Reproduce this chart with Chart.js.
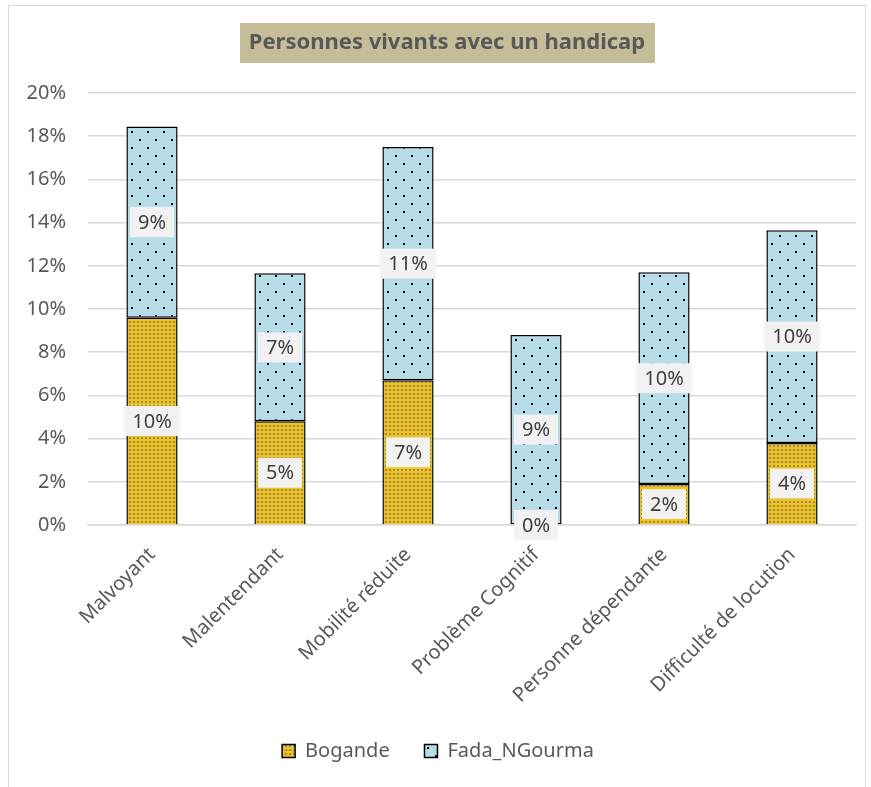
<!DOCTYPE html>
<html>
<head>
<meta charset="utf-8">
<script src="https://cdn.jsdelivr.net/npm/chart.js@4.4.1/dist/chart.umd.min.js"></script>
<style>
  html, body { margin: 0; padding: 0; background: #ffffff; }
  #wrap { position: absolute; left: 0; top: 0; width: 871px; height: 787px; }
</style>
</head>
<body>
<div id="wrap"><canvas id="chart" width="871" height="787"></canvas></div>
<script>
// Data (percent)
const categories = ["Malvoyant", "Malentendant", "Mobilité réduite", "Problème Cognitif", "Personne dépendante", "Difficulté de locution"];
const bogande = [9.6, 4.8, 6.7, 0, 1.9, 3.8];
const fada = [8.85, 6.85, 10.8, 8.8, 9.8, 9.85];
const seriesNames = ["Bogande", "Fada_NGourma"];
const yMax = 20;
const yStep = 2;

const FONT = "'Noto Sans', 'Open Sans', sans-serif";

// Patterns: yellow with small blue dots, light blue with black dots
function makePattern(size, bg, dots, dotColor, dotSize) {
    const c = document.createElement("canvas");
    c.width = size;
    c.height = size;
    const g = c.getContext("2d");
    g.fillStyle = bg;
    g.fillRect(0, 0, size, size);
    g.fillStyle = dotColor;
    dots.forEach(d => g.fillRect(d[0], d[1], dotSize, dotSize));
    return g.createPattern(c, "repeat");
}
const ctxMain = document.getElementById("chart").getContext("2d");
const bogandeFill = makePattern(4, "#FFC000", [[1, 1]], "#6D8FB8", 2);
const fadaFill = makePattern(16, "#B7DEE8", [[3, 3], [11, 11]], "#000000", 2);

// Frame and title box
const frameTitlePlugin = {
    id: "frameTitle",
    beforeDraw(chart) {
        const c = chart.ctx;
        c.save();
        c.fillStyle = "#ffffff";
        c.fillRect(0, 0, chart.width, chart.height);
        c.strokeStyle = "#D9D9D9";
        c.lineWidth = 1;
        c.strokeRect(8.5, 5.5, 857, 800);
        c.fillStyle = "#C4BD97";
        c.fillRect(240, 23, 415, 40);
        c.fillStyle = "#595959";
        c.font = "bold 22px " + FONT;
        c.textAlign = "center";
        c.textBaseline = "middle";
        c.fillText("Personnes vivants avec un handicap", 447, 43);
        c.restore();
    }
};

// Data labels in light boxes at the middle of each segment
const labelPlugin = {
    id: "segLabels",
    afterDatasetsDraw(chart) {
        const c = chart.ctx;
        c.save();
        c.font = "20px " + FONT;
        c.textAlign = "center";
        c.textBaseline = "middle";
        chart.data.datasets.forEach((ds, di) => {
            const meta = chart.getDatasetMeta(di);
            meta.data.forEach((bar, i) => {
                const txt = Math.round(ds.data[i]) + "%";
                const y = (bar.y + bar.base) / 2;
                const w = c.measureText(txt).width + 16;
                const h = 30;
                c.fillStyle = "#F2F2F2";
                c.fillRect(bar.x - w / 2, y - h / 2, w, h);
                c.fillStyle = "#404040";
                c.fillText(txt, bar.x, y + 1);
            });
        });
        c.restore();
    }
};

new Chart(ctxMain, {
    type: "bar",
    data: {
        labels: categories,
        datasets: [
            {
                label: seriesNames[0],
                data: bogande,
                backgroundColor: bogandeFill,
                borderColor: "#000000",
                borderWidth: 1.5,
                borderSkipped: "bottom",
                categoryPercentage: 1,
                barPercentage: 0.4
            },
            {
                label: seriesNames[1],
                data: fada,
                backgroundColor: fadaFill,
                borderColor: "#000000",
                borderWidth: 1.5,
                borderSkipped: false,
                categoryPercentage: 1,
                barPercentage: 0.4
            }
        ]
    },
    options: {
        responsive: false,
        animation: false,
        layout: { padding: { left: 20, right: 15, top: 93, bottom: 16 } },
        scales: {
            x: {
                stacked: true,
                grid: { display: false },
                border: { color: "#D9D9D9", width: 1.5 },
                ticks: {
                    color: "#595959",
                    font: { family: FONT, size: 20 },
                    maxRotation: 45,
                    minRotation: 45,
                    padding: 10
                },
                afterFit(scale) { scale.height = 202; }
            },
            y: {
                stacked: true,
                min: 0,
                max: yMax,
                grid: { color: "#D9D9D9", lineWidth: 1.5, drawTicks: false },
                border: { display: false },
                ticks: {
                    stepSize: yStep,
                    color: "#595959",
                    font: { family: FONT, size: 20 },
                    padding: 22,
                    callback: v => v + "%"
                },
                afterFit(scale) { scale.width = 68; }
            }
        },
        plugins: {
            title: { display: false },
            tooltip: { enabled: false },
            legend: {
                position: "bottom",
                labels: {
                    color: "#595959",
                    font: { family: FONT, size: 20 },
                    boxWidth: 13,
                    boxHeight: 13,
                    padding: 14,
                    // extra spacing between the two items, like the reference
                    generateLabels(chart) {
                        const items = Chart.defaults.plugins.legend.labels.generateLabels(chart);
                        items.forEach((it, k) => { if (k === 0) it.text = it.text + "    "; });
                        return items;
                    }
                }
            }
        }
    },
    plugins: [frameTitlePlugin, labelPlugin]
});
</script>
</body>
</html>
